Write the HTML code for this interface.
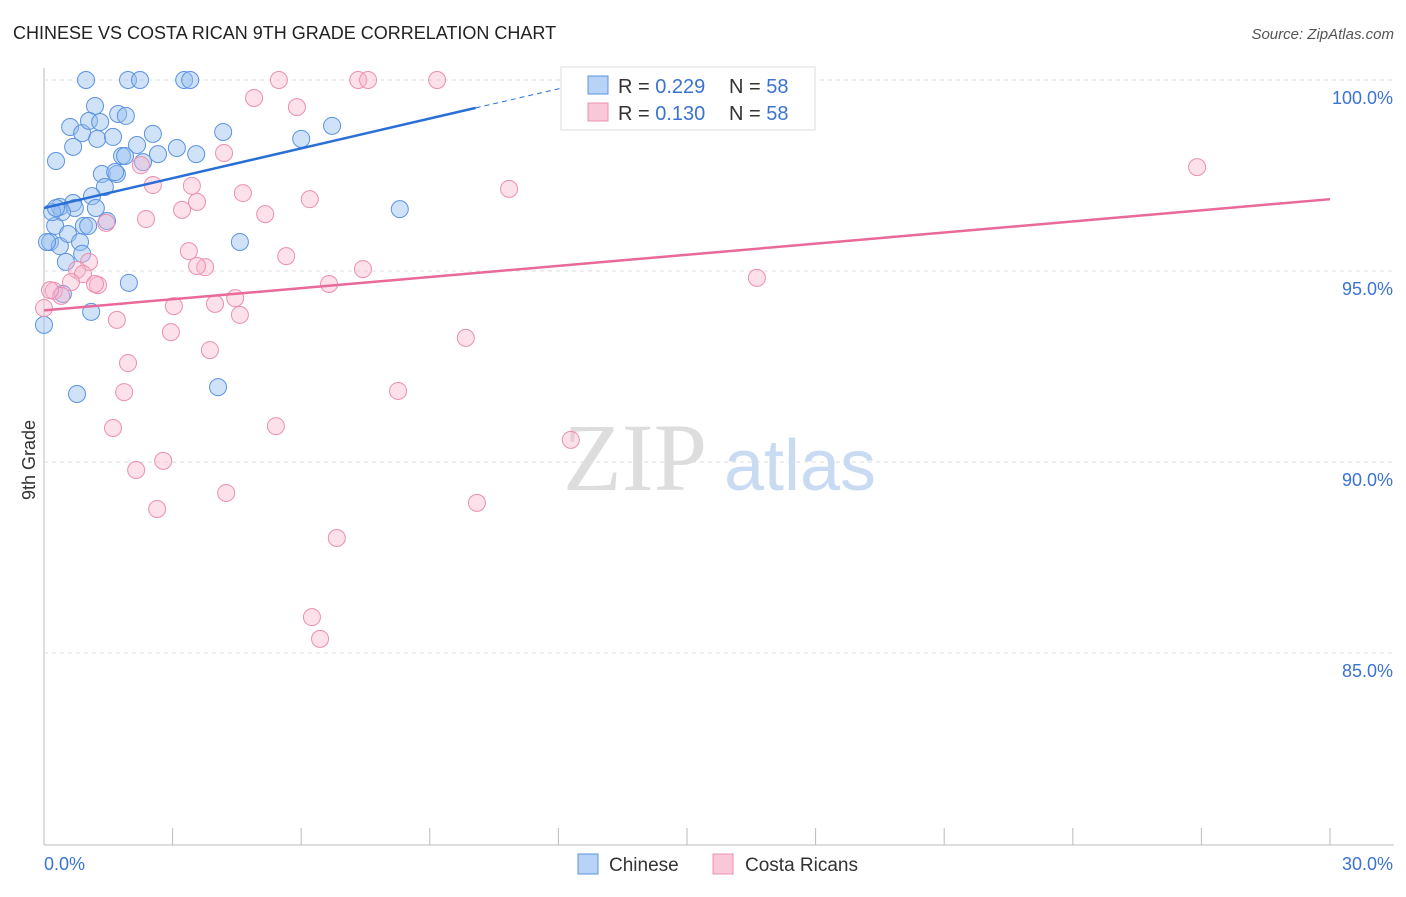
<!DOCTYPE html>
<html><head><meta charset="utf-8"><style>
body{margin:0;background:#fff;font-family:"Liberation Sans",sans-serif;}
svg text{font-family:"Liberation Sans",sans-serif;}
</style></head><body>
<svg id="chart" width="1406" height="892">
<text x="13" y="39" font-size="18" fill="#222">CHINESE VS COSTA RICAN 9TH GRADE CORRELATION CHART</text>
<text x="1394" y="39" font-size="15" fill="#555" font-style="italic" text-anchor="end">Source: ZipAtlas.com</text>
<g id="grid"></g>
<text x="635" y="490" font-size="96" fill="#ddd" text-anchor="middle" style="font-family:'Liberation Serif',serif">ZIP</text>
<text x="800" y="490" font-size="72" fill="#c9dbf2" text-anchor="middle">atlas</text>
<g id="marks"></g>
<text x="35" y="460" font-size="18" fill="#333" text-anchor="middle" transform="rotate(-90 35 460)">9th Grade</text>
<g>
<rect x="561" y="67" width="254" height="63" fill="#fff" stroke="#ddd"/>
<rect x="588" y="76" width="20" height="18" fill="#b8d3f5" stroke="#5b93e0"/>
<rect x="588" y="103" width="20" height="18" fill="#f9c8d8" stroke="#ec8fae"/>
<text x="618" y="93" font-size="20" fill="#333">R = <tspan fill="#3b73d1">0.229</tspan></text>
<text x="729" y="93" font-size="20" fill="#333">N = <tspan fill="#3b73d1">58</tspan></text>
<text x="618" y="120" font-size="20" fill="#333">R = <tspan fill="#3b73d1">0.130</tspan></text>
<text x="729" y="120" font-size="20" fill="#333">N = <tspan fill="#3b73d1">58</tspan></text>
</g>
<g>
<rect x="578" y="854" width="20" height="20" fill="#b8d3f5" stroke="#5b93e0"/>
<text x="609" y="871" font-size="19" fill="#333">Chinese</text>
<rect x="713" y="854" width="20" height="20" fill="#f9c8d8" stroke="#ec8fae"/>
<text x="745" y="871" font-size="19" fill="#333">Costa Ricans</text>
</g>
</svg>
<script>
const blueX=[0.98,1.96,2.24,3.27,3.41,1.19,1.73,1.91,0.61,0.89,1.05,1.31,1.24,1.61,2.54,4.18,6.00,6.72,0.28,0.68,1.82,1.89,2.17,2.66,3.10,3.55,1.35,1.70,2.31,1.42,1.12,0.37,0.68,0.72,1.21,0.42,0.93,1.03,1.47,0.26,0.14,0.37,0.56,0.84,0.89,0.51,1.98,1.10,0.44,0,0.77,4.06,4.57,8.30,1.66,0.19,0.28,0.07];
const blueY=[100,100,100,100,100,99.32,99.11,99.06,98.77,98.61,98.93,98.90,98.46,98.51,98.59,98.64,98.46,98.80,97.88,98.25,98.01,98.01,98.30,98.06,98.22,98.06,97.54,97.54,97.85,97.20,96.96,96.68,96.78,96.65,96.65,96.54,96.18,96.18,96.31,96.18,95.76,95.65,95.97,95.76,95.45,95.24,94.69,93.93,94.40,93.59,91.78,91.96,95.76,96.62,97.59,96.54,96.65,95.76];
const pinkX=[5.48,7.33,7.56,9.17,4.90,5.90,26.90,4.20,2.26,2.54,3.45,4.64,3.57,3.22,6.20,10.85,5.16,2.38,1.45,3.38,5.65,1.05,0.77,0.91,3.76,7.44,6.65,1.26,0.63,0.23,0.40,0,4.46,3.99,3.03,4.57,1.70,2.96,3.87,9.84,1.96,1.87,8.26,5.41,1.61,12.29,2.78,2.15,4.25,2.64,10.10,6.83,6.25,6.44,16.63,3.57,0.14,1.19];
const pinkY=[100,100,100,100,99.53,99.29,97.72,98.09,97.77,97.25,97.23,97.04,96.81,96.60,96.88,97.15,96.49,96.36,96.26,95.52,95.39,95.24,95.03,94.92,95.10,95.05,94.66,94.63,94.71,94.48,94.35,94.03,94.29,94.14,94.08,93.85,93.72,93.40,92.93,93.25,92.59,91.83,91.86,90.94,90.89,90.58,90.03,89.79,89.19,88.77,88.93,88.01,85.94,85.37,94.82,95.13,94.50,94.66];
const yTicks=[100,95,90,85];
const yTickLabels=["100.0%","95.0%","90.0%","85.0%"];
const xTicks=[0,3,6,9,12,15,18,21,24,27,30];
const blueLine=[0,96.65,10.07,99.27,12.2,99.82];
const pinkLine=[0,93.97,30,96.88];
const X=v=>44+v*1286/30, Y=v=>80+(100-v)*38.2;
const NS="http://www.w3.org/2000/svg";
const grid=document.getElementById('grid'), marks=document.getElementById('marks'), svg=document.getElementById('chart');
function mk(tag,attrs,parent){const e=document.createElementNS(NS,tag);for(const k in attrs)e.setAttribute(k,attrs[k]);parent.appendChild(e);return e;}
let ax=mk('line',{x1:44,y1:68,x2:44,y2:845,stroke:'#bbb'},grid);


let bx=mk('line',{x1:44,y1:845,x2:1394,y2:845,stroke:'#bbb'},grid);


yTicks.forEach((t,i)=>{
 let g=mk('line',{x1:44,y1:Y(t),x2:1394,y2:Y(t),stroke:'#ddd','stroke-dasharray':'4 4'},grid);
 
 
 let l=mk('text',{x:1393,y:Y(t)+24,'font-size':18,fill:'#3b73d1','text-anchor':'end'},svg);
 l.textContent=yTickLabels[i];
 
 
});
xTicks.forEach(t=>{
 let k=mk('line',{x1:X(t),y1:828,x2:X(t),y2:845,stroke:'#bbb'},grid);
 
 
});
let x0=mk('text',{x:44,y:870,'font-size':18,fill:'#3b73d1'},svg);x0.textContent='0.0%';


let x1=mk('text',{x:1393,y:870,'font-size':18,fill:'#3b73d1','text-anchor':'end'},svg);x1.textContent='30.0%';


blueX.forEach((v,i)=>{
 let c=mk('circle',{cx:X(v),cy:Y(blueY[i]),r:8.5,fill:'rgba(150,190,240,0.45)',stroke:'#5b93e0','stroke-width':1},marks);
 
 
});
pinkX.forEach((v,i)=>{
 let c=mk('circle',{cx:X(v),cy:Y(pinkY[i]),r:8.5,fill:'rgba(248,180,205,0.4)',stroke:'#ec8fae','stroke-width':1},marks);
 
 
});
let bl=mk('line',{x1:X(blueLine[0]),y1:Y(blueLine[1]),x2:X(blueLine[2]),y2:Y(blueLine[3]),stroke:'#2a6fd6','stroke-width':2.5},marks);


let bd=mk('line',{x1:X(blueLine[2]),y1:Y(blueLine[3]),x2:X(blueLine[4]),y2:Y(blueLine[5]),stroke:'#2a6fd6','stroke-width':1,'stroke-dasharray':'5 4'},marks);


let pl=mk('line',{x1:X(pinkLine[0]),y1:Y(pinkLine[1]),x2:X(pinkLine[2]),y2:Y(pinkLine[3]),stroke:'#e8699a','stroke-width':2.5},marks);


</script>
</body></html>
